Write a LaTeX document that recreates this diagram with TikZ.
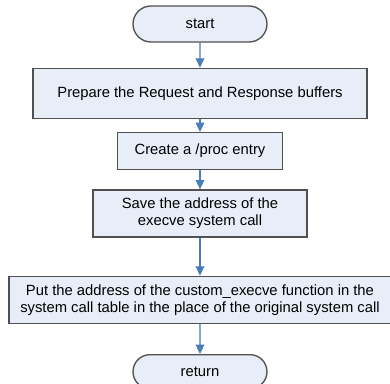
\documentclass[tikz,border=0pt]{standalone}
\usepackage{fontspec}
\setmainfont{Liberation Sans}
\usepackage{xcolor}
\usetikzlibrary{arrows.meta,positioning,shapes.misc}
\definecolor{boxfill}{RGB}{232,238,248}
\definecolor{boxline}{RGB}{80,80,80}
\definecolor{flowblue}{RGB}{74,126,187}

\begin{document}
\begin{tikzpicture}[>={Triangle[width=6.5pt,length=7pt]},node distance=14pt,font=\fontsize{11.1}{12.8}\selectfont]
\tikzstyle{stepbox}=[draw=boxline,fill=boxfill,line width=1pt,align=center,inner sep=0pt]
\tikzstyle{termbox}=[stepbox,rounded rectangle,minimum width=100.5pt,minimum height=27pt]
\tikzstyle{flow}=[->,draw=flowblue,fill=flowblue,line width=0.8pt]
\useasboundingbox (-150pt,18pt) rectangle (142.5pt,-269.25pt);
\node[termbox] (start) {start};
\node[stepbox,below=18.75pt of start,minimum width=250.5pt,minimum height=37.5pt] (buffers) {Prepare the Request and Response buffers};
\node[stepbox,below=9.75pt of buffers,minimum width=123.75pt,minimum height=27.75pt] (proc) {Create a /proc entry};
\node[stepbox,below=14.25pt of proc,minimum width=160.5pt,minimum height=35.25pt] (save) {Save the address of the\\execve system call};
\node[stepbox,below=28.5pt of save,minimum width=286.5pt,minimum height=35.25pt] (table) {Put the address of the custom\_execve function in the\\system call table in the place of the original system call};
\node[termbox,below=22.5pt of table,minimum height=25.5pt] (return) {return};
\draw[flow] (start) -- (buffers);
\draw[flow] (buffers) -- (proc);
\draw[flow] (proc) -- (save);
\draw[flow] (save) -- (table);
\draw[flow] (table) -- (return);
\end{tikzpicture}
\end{document}
